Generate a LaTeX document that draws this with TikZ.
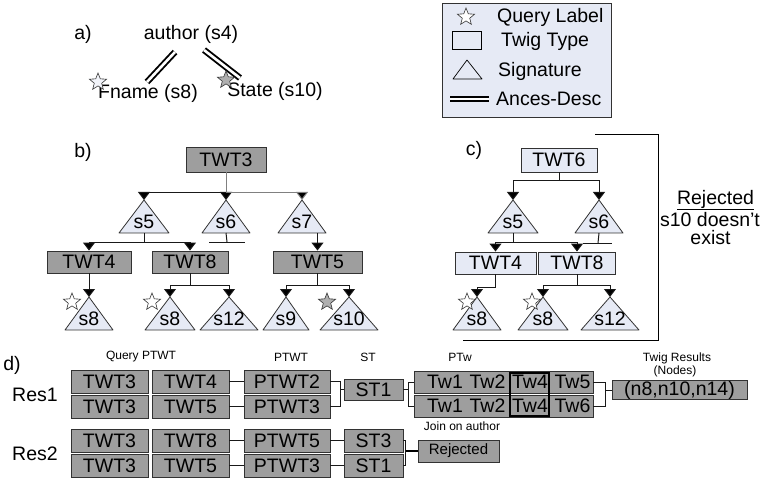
\documentclass[tikz,border=0pt]{standalone}
\usepackage{fontspec}
\setmainfont{Liberation Sans}
\usetikzlibrary{arrows.meta,shapes.geometric,calc}

\definecolor{boxgray}{RGB}{158,158,158}
\definecolor{paleblue}{RGB}{230,234,245}
\definecolor{edgegray}{RGB}{50,50,50}
\definecolor{linegray}{RGB}{25,25,25}
\definecolor{stargray}{RGB}{175,175,175}

\tikzset{
  big/.style={font=\fontsize{19.5}{21}\selectfont},
  small/.style={font=\fontsize{12}{13}\selectfont},
  twig/.style={big,draw=edgegray,line width=0.9pt,fill=boxgray,inner sep=0pt},
  paletwig/.style={twig,fill=paleblue},
  sigshape/.style={draw=edgegray,line width=0.8pt,fill=paleblue,line join=round},
  conn/.style={draw=linegray,line width=1pt},
  arr/.style={conn,-{Triangle[width=12pt,length=8pt,fill=black]}},
  qstar/.style={star,star points=5,star point ratio=2.3,draw=edgegray,line width=0.6pt,
                fill=white,minimum size=18pt,inner sep=0pt},
  anc/.style={double=white,draw=black,line width=1.9pt,double distance=2.6pt},
}

% signature triangle: name, apex x, apex y, half base width, label
\newcommand{\sigtri}[5]{%
  \coordinate (#1) at (#2,#3);
  \coordinate (#1b) at (#2,#3+33);
  \path[sigshape] (#2,#3) -- (#2-#4,#3+33) -- (#2+#4,#3+33) -- cycle;
  \node[big] (#1t) at (#2,#3+22) {#5};
}

\begin{document}
\begin{tikzpicture}[x=1pt,y=-1pt]
\useasboundingbox (0,0) rectangle (770,478);

% ---------- a) query twig ----------
\node[big] (lbla) at (83,34) {a)};
\node[big] (author) at (191,34) {author (s4)};
\node[big] (fname) at (148,93) {Fname (s8)};
\node[big] (state) at (275,91) {State (s10)};
\coordinate (aL1) at (175,52);
\coordinate (aL2) at (147,82);
\coordinate (aR1) at (204,50);
\coordinate (aR2) at (240,78);
\draw[anc] (aL1) -- (aL2);
\draw[anc] (aR1) -- (aR2);
\node[qstar,fill=paleblue!50!white] (stA1) at (98,82) {};
\node[qstar,fill=stargray] (stA2) at (226,80) {};

% ---------- legend ----------
\node[draw=edgegray,line width=0.9pt,fill=paleblue,minimum width=169pt,minimum height=114pt,inner sep=0pt] (legend) at (526.5,60) {};
\node[qstar] (lgstar) at (466,17) {};
\node[big,anchor=west,inner sep=0pt] (lgq) at (497,17) {Query Label};
\node[draw=black,line width=1pt,minimum width=29pt,minimum height=18pt,inner sep=0pt] (lgbox) at (466.5,41) {};
\node[big,anchor=west,inner sep=0pt] (lgt) at (501,41) {Twig Type};
\path[draw=black,line width=0.7pt,line join=round] (453,79) -- (482,79) -- (467,60) -- cycle;
\node[big,anchor=west,inner sep=0pt] (lgs) at (498,71) {Signature};
\coordinate (lgd1) at (450,99);
\coordinate (lgd2) at (489,99);
\draw[anc,line width=1.7pt,double distance=1.8pt] (lgd1) -- (lgd2);
\node[big,anchor=west,inner sep=0pt] (lga) at (496,99) {Ances-Desc};

% ---------- b) twig type tree ----------
\node[big] (lblb) at (83,152) {b)};
\node[twig,minimum width=80pt,minimum height=25pt] (TWT3b) at (226,159.5) {TWT3};
\sigtri{s5b}{144}{200}{25}{s5}
\sigtri{s6b}{226}{200}{24}{s6}
\sigtri{s7b}{302}{200}{24}{s7}
\draw[arr] (TWT3b.south) -- (s6b);
\draw[arr] (TWT3b.south) -- ++(0,20) -| (s5b);
\draw[arr,draw=gray] (TWT3b.south) -- ++(0,20) -| (s7b);

\node[twig,minimum width=84pt,minimum height=22pt] (TWT4b) at (89,262) {TWT4};
\node[twig,minimum width=76pt,minimum height=22pt] (TWT8b) at (190,262) {TWT8};
\node[twig,minimum width=89pt,minimum height=22pt] (TWT5b) at (317.5,262) {TWT5};
\draw[arr] (s5bb) -- ++(0,9) -| (TWT4b.north);
\draw[arr] (s5bb) -- ++(0,9) -| (TWT8b.north);
\coordinate (s6bt) at (227,242);
\coordinate (s6bL) at (209,242);
\coordinate (s6bR) at (245,242);
\draw[conn] (s6bb) -- (s6bt);
\draw[conn] (s6bL) -- (s6bR);
\coordinate (s7bo) at (317.5,233);
\draw[arr] (s7bo) -- (TWT5b.north);

\sigtri{s8b}{89}{297}{24}{s8}
\sigtri{s8c}{170}{297}{25}{s8}
\sigtri{s12b}{229}{297}{29}{s12}
\sigtri{s9b}{286}{297}{23}{s9}
\sigtri{s10b}{349}{297}{29}{s10}
\draw[arr] (TWT4b.south) -- (s8b);
\draw[arr] (TWT8b.south) -- ++(0,12) -| (s8c);
\draw[arr] (TWT8b.south) -- ++(0,12) -| (s12b);
\draw[arr] (TWT5b.south) -- ++(0,12) -| (s9b);
\draw[arr] (TWT5b.south) -- ++(0,12) -| (s10b);
\node[qstar] (stB1) at (72,302) {};
\node[qstar] (stB2) at (152,302) {};
\node[qstar,fill=stargray] (stB3) at (327,302) {};

% ---------- c) rejected twig type tree ----------
\node[big] (lblc) at (474,150) {c)};
\node[paletwig,minimum width=76pt,minimum height=24pt] (TWT6c) at (559,160) {TWT6};
\sigtri{s5c}{513}{200}{25}{s5}
\sigtri{s6c}{599}{200}{24}{s6}
\draw[arr] (TWT6c.south) -- ++(0,8) -| (s5c);
\draw[arr] (TWT6c.south) -- ++(0,8) -| (s6c);

\node[paletwig,minimum width=81pt,minimum height=22pt] (TWT4c) at (495.5,263) {TWT4};
\node[paletwig,minimum width=77pt,minimum height=22pt] (TWT8c) at (577,263) {TWT8};
\draw[arr] (s5cb) -- ++(0,9) -| (TWT4c.north);
\draw[arr] (s5cb) -- ++(0,9) -| (TWT8c.north);
\coordinate (s6ct) at (598,243);
\coordinate (s6cL) at (583,243);
\coordinate (s6cR) at (612,243);
\draw[conn] (s6cb) -- (s6ct);
\draw[conn] (s6cL) -- (s6cR);

\sigtri{s8e}{477}{297}{24}{s8}
\sigtri{s8f}{543}{297}{25}{s8}
\sigtri{s12c}{610}{297}{29}{s12}
\draw[arr] (TWT4c.south) -- ++(0,13) -| (s8e);
\draw[arr] (TWT8c.south) -- ++(0,11) -| (s8f);
\draw[arr] (TWT8c.south) -- ++(0,11) -| (s12c);
\node[qstar] (stC1) at (467,302) {};
\node[qstar] (stC2) at (532,302) {};

\coordinate (brA) at (595,135);
\coordinate (brB) at (658,135);
\coordinate (brC) at (658,340);
\coordinate (brD) at (463,340);
\draw[conn,draw=black] (brA) -- (brB) -- (brC) -- (brD);
\node[big] (rejtxt) at (715.5,200) {\underline{Rejected}};
\node[big] (why1) at (710,220) {s10 doesn't};
\node[big] (why2) at (710.5,238) {exist};

% ---------- d) result pipeline ----------
\node[big] (lbld) at (12,365) {d)};
\node[small] (hq) at (141,357) {Query PTWT};
\node[small] (hp) at (291,357) {PTWT};
\node[small] (hs) at (368,357) {ST};
\node[small] (hw) at (460,357) {PTw};
\node[small] (hr1) at (677,358) {Twig Results};
\node[small] (hr2) at (675,371) {(Nodes)};
\node[big] (res1) at (35,395) {Res1};
\node[big] (res2) at (35,454) {Res2};

\tikzset{c1/.style={twig,minimum width=77pt,minimum height=23pt},
         c3/.style={twig,minimum width=86pt,minimum height=23pt},
         c4/.style={twig,minimum width=59pt,minimum height=23pt}}
% Res1
\node[c1] (r1a) at (109.5,381.5) {TWT3};
\node[c1] (r1b) at (190.5,381.5) {TWT4};
\node[c3] (r1c) at (287,381.5) {PTWT2};
\node[c1] (r2a) at (109.5,406.5) {TWT3};
\node[c1] (r2b) at (190.5,406.5) {TWT5};
\node[c3] (r2c) at (287,406.5) {PTWT3};
\node[twig,minimum width=59pt,minimum height=21pt] (st1a) at (373.5,389.5) {ST1};
\node[twig,minimum width=179pt,minimum height=22pt] (tw1) at (503.5,382) {};
\node[twig,minimum width=179pt,minimum height=22pt] (tw2) at (503.5,406) {};
\node[big] (tw1a) at (445,382) {Tw1};
\node[big] (tw1b) at (487.5,382) {Tw2};
\node[big] (tw1c) at (530,382) {Tw4};
\node[big] (tw1d) at (572.5,382) {Tw5};
\node[big] (tw2a) at (445,406) {Tw1};
\node[big] (tw2b) at (487.5,406) {Tw2};
\node[big] (tw2c) at (530,406) {Tw4};
\node[big] (tw2d) at (572.5,406) {Tw6};
\node[draw=black,line width=2pt,minimum width=39pt,minimum height=43pt,inner sep=0pt] (join) at (529.5,394.5) {};
\node[small] (joinlbl) at (462,426) {Join on author};
\node[twig,minimum width=135pt,minimum height=18pt] (nodes) at (679.5,390) {(n8,n10,n14)};

\draw[conn] (r1b) -- (r1c);
\draw[conn] (r2b) -- (r2c);
\draw[conn] (r1c.east) -| ($(st1a.west)+(-3,0)$) -- (st1a.west);
\draw[conn] (r2c.east) -| ($(st1a.west)+(-3,0)$);
\draw[conn] (st1a.east) -| ($(tw1.west)+(-5,0)$) -- (tw1.west);
\draw[conn] (st1a.east) -| ($(tw2.west)+(-5,0)$) -- (tw2.west);
\draw[conn] (tw1.east) -| ($(nodes.west)+(-6,0)$) -- (nodes.west);
\draw[conn] (tw2.east) -| ($(nodes.west)+(-6,0)$);

% Res2
\node[c1] (r3a) at (109.5,440.5) {TWT3};
\node[c1] (r3b) at (190.5,440.5) {TWT8};
\node[c3] (r3c) at (287,440.5) {PTWT5};
\node[c4] (r3d) at (373.5,440.5) {ST3};
\node[c1] (r4a) at (109.5,465.5) {TWT3};
\node[c1] (r4b) at (190.5,465.5) {TWT5};
\node[c3] (r4c) at (287,465.5) {PTWT3};
\node[c4] (r4d) at (373.5,465.5) {ST1};
\node[twig,font=\fontsize{15}{17}\selectfont,minimum width=81pt,minimum height=22pt] (rej) at (458.5,451) {Rejected};

\draw[conn] (r3b) -- (r3c);
\draw[conn] (r3c) -- (r3d);
\draw[conn] (r4b) -- (r4c);
\draw[conn] (r4c) -- (r4d);
\draw[conn] (r3d.east) -| ($(rej.west)+(-12,0)$);
\draw[conn] (r4d.east) -| ($(rej.west)+(-12,0)$);
\draw[conn,draw=black,line width=1.6pt] ($(rej.west)+(-12,0)$) -- (rej.west);
\end{tikzpicture}
\end{document}
